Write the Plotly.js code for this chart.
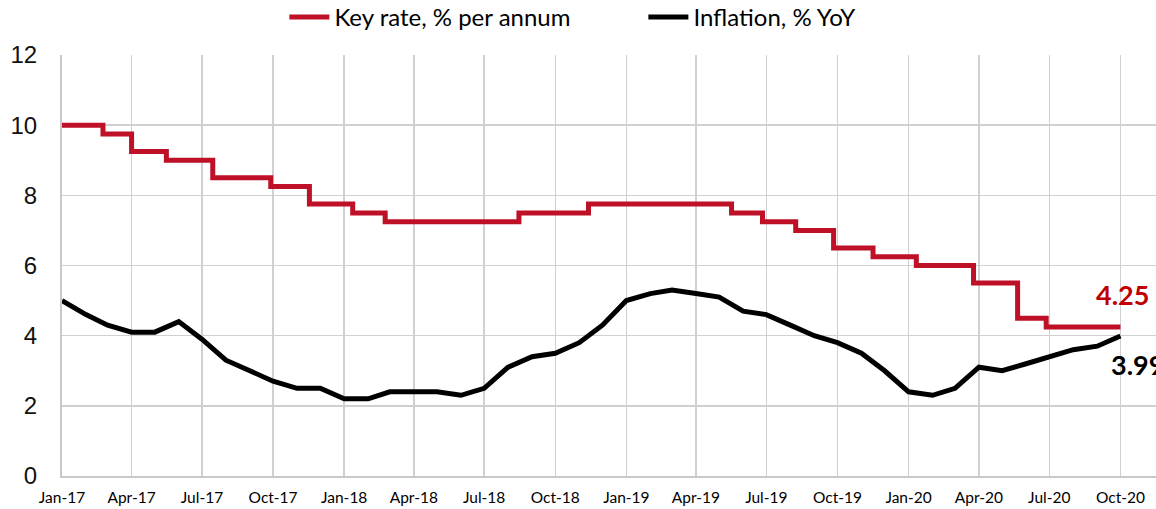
<!DOCTYPE html>
<html>
<head>
<meta charset="utf-8">
<script src="https://cdn.plot.ly/plotly-3.0.1.min.js"></script>
<style>
  html, body { margin: 0; padding: 0; background: #fff; }
  #chart { width: 1156px; height: 509px; }
</style>
</head>
<body>
<div id="chart"></div>
<script>
// Key rate, % per annum (step changes, dates)
const keyRateDates = [
  '2017-01-01', '2017-02-23', '2017-04-01', '2017-05-16', '2017-07-15', '2017-09-28',
  '2017-11-17', '2018-01-12', '2018-02-23', '2018-08-15', '2018-11-13', '2019-05-17',
  '2019-06-26', '2019-08-08', '2019-09-26', '2019-11-16', '2020-01-11', '2020-03-25',
  '2020-05-21', '2020-06-27', '2020-10-01'
];
const keyRateValues = [
  10.0, 9.75, 9.25, 9.0, 8.5, 8.25,
  7.75, 7.5, 7.25, 7.5, 7.75, 7.5,
  7.25, 7.0, 6.5, 6.25, 6.0, 5.5,
  4.5, 4.25, 4.25
];

// Inflation, % YoY (monthly, Jan-17 .. Oct-20)
const inflationStart = '2017-01';
const inflationValues = [
  5.0, 4.6, 4.3, 4.1, 4.1, 4.4, 3.9, 3.3, 3.0, 2.7, 2.5, 2.5,
  2.2, 2.2, 2.4, 2.4, 2.4, 2.3, 2.5, 3.1, 3.4, 3.5, 3.8, 4.3,
  5.0, 5.2, 5.3, 5.2, 5.1, 4.7, 4.6, 4.3, 4.0, 3.8, 3.5, 3.0,
  2.4, 2.3, 2.5, 3.1, 3.0, 3.2, 3.4, 3.6, 3.7, 3.99
];

const seriesNames = ['Key rate, % per annum', 'Inflation, % YoY'];
const keyColor = '#BE1128';
const inflColor = '#000000';

function monthDates(start, n) {
  const [y0, m0] = start.split('-').map(Number);
  const out = [];
  for (let i = 0; i < n; i++) {
    const t = (m0 - 1) + i;
    const y = y0 + Math.floor(t / 12);
    const m = (t % 12) + 1;
    out.push(y + '-' + String(m).padStart(2, '0') + '-01');
  }
  return out;
}
const inflationDates = monthDates(inflationStart, inflationValues.length);

const traces = [
  {
    x: keyRateDates, y: keyRateValues, name: seriesNames[0],
    type: 'scatter', mode: 'lines',
    line: { color: keyColor, width: 5, shape: 'hv' }
  },
  {
    x: inflationDates, y: inflationValues, name: seriesNames[1],
    type: 'scatter', mode: 'lines',
    line: { color: inflColor, width: 5 }
  }
];

const lastKR = keyRateValues[keyRateValues.length - 1];
const lastKRDate = keyRateDates[keyRateDates.length - 1];
const lastInf = inflationValues[inflationValues.length - 1];
const lastInfDate = inflationDates[inflationDates.length - 1];

const layout = {
  width: 1156, height: 509,
  margin: { l: 62, r: 0, t: 55, b: 33 },
  paper_bgcolor: '#ffffff', plot_bgcolor: '#ffffff',
  showlegend: true,
  legend: {
    orientation: 'h', xref: 'container', x: 0.246, xanchor: 'left',
    yref: 'container', y: 0.966, yanchor: 'middle',
    font: { family: 'Lato, "Open Sans", sans-serif', size: 24, color: '#000' },
    itemwidth: 40, tracegroupgap: 0,
    entrywidth: 304, entrywidthmode: 'pixels'
  },
  xaxis: {
    type: 'date',
    range: ['2017-01-01', '2020-11-16'],
    tick0: '2017-01-01', dtick: 'M3', tickformat: '%b-%y',
    showgrid: true, gridcolor: '#d0d0d0', gridwidth: 1.5,
    showline: true, linecolor: '#c8c8c8', linewidth: 2,
    ticks: '', zeroline: false, ticklabelstandoff: 6,
    tickfont: { family: 'Lato, "Open Sans", sans-serif', size: 15.5, color: '#000' }
  },
  yaxis: {
    range: [0, 12], dtick: 2, tick0: 0,
    showgrid: true, gridcolor: '#d0d0d0', gridwidth: 1.5,
    showline: true, linecolor: '#c8c8c8', linewidth: 2,
    ticks: '', zeroline: false, ticklabelstandoff: 18,
    tickfont: { family: '"Liberation Sans", Arial, sans-serif', size: 24, color: '#111' }
  },
  annotations: [
    {
      x: lastKRDate, y: lastKR, xref: 'x', yref: 'y',
      text: '<b>' + lastKR.toFixed(2) + '</b>', showarrow: false,
      xanchor: 'center', yanchor: 'bottom', yshift: 14, xshift: 2,
      font: { family: 'Lato, sans-serif', size: 27, color: '#C00000' }
    },
    {
      x: lastInfDate, y: lastInf, xref: 'x', yref: 'y',
      text: '<b>' + lastInf.toFixed(2) + '</b>', showarrow: false,
      xanchor: 'left', yanchor: 'top', yshift: -10, xshift: -11,
      font: { family: 'Lato, sans-serif', size: 27, color: '#000' }
    }
  ]
};

Plotly.newPlot('chart', traces, layout, { displayModeBar: false, staticPlot: true });
</script>
</body>
</html>
